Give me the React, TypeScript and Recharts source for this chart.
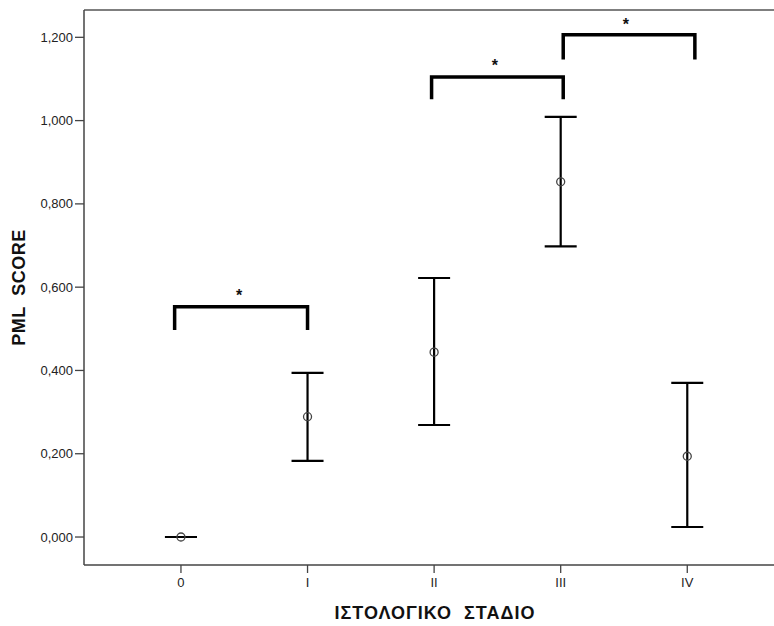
import { ScatterChart, Scatter, XAxis, YAxis, ErrorBar, ReferenceLine } from 'recharts';

const stages = ['0', 'I', 'II', 'III', 'IV'];
const means = [0, 0.289, 0.444, 0.853, 0.194];
const lower = [0, 0.183, 0.269, 0.698, 0.024];
const upper = [0, 0.394, 0.622, 1.009, 0.37];
const yTicks = [0, 0.2, 0.4, 0.6, 0.8, 1.0, 1.2];

// significance brackets (x in stage units, y in score units)
const bracketFrom = [-0.05, 1.98, 3.02];
const bracketTo = [1.0, 3.02, 4.06];
const bracketTop = [0.553, 1.105, 1.206];
const bracketLeg = [0.497, 1.051, 1.147];
const starX = [0.46, 2.48, 3.515];
const starY = [0.589, 1.141, 1.24];

const X_DOMAIN = [-0.766, 4.78];
const Y_DOMAIN = [-0.0672, 1.2656];
const FONT = '"Liberation Sans", Arial, sans-serif';

const points = stages.map((s, i) => ({
  x: i,
  y: means[i],
  err: [means[i] - lower[i], upper[i] - means[i]],
}));

const brackets = bracketFrom.map((from, i) => [
  { x: from, y: bracketLeg[i] },
  { x: from, y: bracketTop[i] },
  { x: bracketTo[i], y: bracketTop[i] },
  { x: bracketTo[i], y: bracketLeg[i] },
]);

const stars = starX.map((x, i) => ({ x, y: starY[i] }));

const fmtY = (v: number) => v.toFixed(3).replace('.', ',');

const MeanDot = (p: any) => (
  <circle cx={p.cx} cy={p.cy} r={4} fill="none" stroke="#444" strokeWidth={1.3} />
);

const Star = (p: any) => (
  <text x={p.cx} y={p.cy + 9} textAnchor="middle" fontFamily={FONT} fontWeight="bold" fontSize={16} fill="#111">
    *
  </text>
);

const YTitle = (props: any) => {
  const vb = props.viewBox || {};
  const cy = (vb.y ?? 10) + (vb.height ?? 555) / 2;
  return (
    <text
      x={25}
      y={cy}
      transform={`rotate(-90, 25, ${cy})`}
      textAnchor="middle"
      fontFamily={FONT}
      fontWeight="bold"
      fontSize={18}
      letterSpacing={0.5}
      fill="#111"
      style={{ whiteSpace: 'pre' }}
    >
      {'PML  SCORE'}
    </text>
  );
};

const XTitle = (props: any) => {
  const vb = props.viewBox || {};
  const cx = (vb.x ?? 84) + (vb.width ?? 702) / 2;
  return (
    <text x={cx} y={619} textAnchor="middle" fontFamily={FONT} fontWeight="bold" fontSize={18} letterSpacing={1} fill="#111" style={{ whiteSpace: 'pre' }}>
      {'ΙΣΤΟΛΟΓΙΚΟ  ΣΤΑΔΙΟ'}
    </text>
  );
};

export default function App() {
  return (
    <div style={{ position: 'fixed', left: 0, top: 0, width: 774, height: 626, overflow: 'hidden', background: '#fff' }}>
      <ScatterChart width={790} height={626} margin={{ top: 10, right: 4, bottom: 0, left: 0 }}>
        <XAxis
          type="number"
          dataKey="x"
          domain={X_DOMAIN}
          ticks={[0, 1, 2, 3, 4]}
          tickFormatter={(v: number) => stages[v]}
          allowDataOverflow
          height={61}
          tickSize={8}
          tickMargin={5}
          axisLine={{ stroke: '#444', strokeWidth: 1.5 }}
          tickLine={{ stroke: '#444', strokeWidth: 1.3 }}
          tick={{ fill: '#222', fontSize: 13, fontFamily: FONT }}
          label={<XTitle />}
        />
        <YAxis
          type="number"
          dataKey="y"
          domain={Y_DOMAIN}
          ticks={yTicks}
          tickFormatter={fmtY}
          allowDataOverflow
          width={84}
          tickSize={9}
          tickMargin={2}
          axisLine={{ stroke: '#444', strokeWidth: 1.5 }}
          tickLine={{ stroke: '#444', strokeWidth: 1.3 }}
          tick={{ fill: '#222', fontSize: 13, fontFamily: FONT }}
          label={<YTitle />}
        />
        <ReferenceLine y={Y_DOMAIN[1]} stroke="#555" strokeWidth={1.5} />
        {brackets.map((b, i) => (
          <Scatter
            key={`br-${i}`}
            data={b}
            line={{ stroke: '#000', strokeWidth: 3.5 }}
            lineType="joint"
            shape={() => <g />}
            isAnimationActive={false}
          />
        ))}
        <Scatter data={stars} shape={Star} isAnimationActive={false} />
        <Scatter data={points} shape={MeanDot} isAnimationActive={false}>
          <ErrorBar dataKey="err" direction="y" width={16} strokeWidth={2.2} stroke="#000" isAnimationActive={false} />
        </Scatter>
      </ScatterChart>
    </div>
  );
}
